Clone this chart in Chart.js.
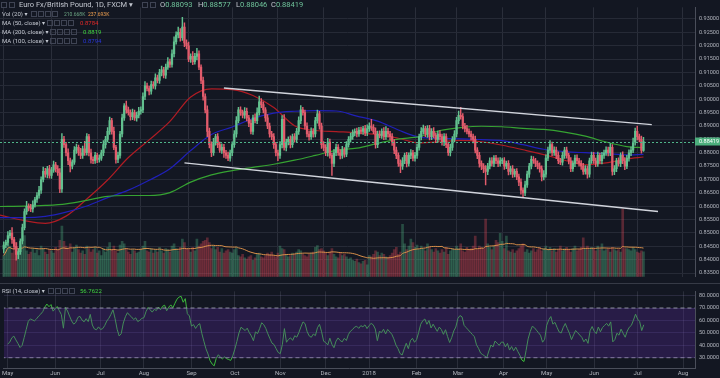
<!DOCTYPE html>
<html>
<head>
<meta charset="utf-8">
<script src="https://cdn.jsdelivr.net/npm/chart.js@4.4.1/dist/chart.umd.min.js"></script>
<style>
  html, body { margin: 0; padding: 0; background: #131722; }
  #wrap { position: relative; width: 720px; height: 378px; overflow: hidden; background: #131722;
          font-family: Roboto, "DejaVu Sans", sans-serif; }
  #main { position: absolute; left: 0; top: 0; }
  #rsi  { position: absolute; left: 0; top: 284px; }
  .sep  { position: absolute; left: 0; top: 283px; width: 720px; height: 1px; background: #363a46; }
  .t    { position: absolute; white-space: nowrap; color: #c3c7d0; font-size: 6px; line-height: 8px; height: 8px; }
  .big  { font-size: 7.5px; line-height: 9px; height: 9px; top: 0px; }
  .v    { color: #6fc39a; }
  .ico  { position: absolute; width: 4px; height: 4px; border: 1px solid #3f4454; }
</style>
</head>
<body>
<div id="wrap">
  <canvas id="main" width="720" height="284"></canvas>
  <canvas id="rsi" width="720" height="94"></canvas>
  <div class="sep"></div>

  <!-- legend -->
  <div class="ico" style="left:1px;top:2px;"></div>
  <div class="ico" style="left:9px;top:2px;"></div>
  <div class="t big" style="left:19px;">Euro Fx/British Pound, 1D, FXCM ▾</div>
  <div class="ico" style="left:142px;top:2px;"></div>
  <div class="ico" style="left:150px;top:2px;"></div>
  <div class="t big" style="left:160px;">O<span class="v">0.88093</span></div>
  <div class="t big" style="left:198px;">H<span class="v">0.88577</span></div>
  <div class="t big" style="left:236px;">L<span class="v">0.88046</span></div>
  <div class="t big" style="left:271px;">C<span class="v">0.88419</span></div>

  <div class="t" style="left:2px;top:10px;">Vol (20) ▾</div>
  <div class="ico" style="left:31px;top:11px;"></div><div class="ico" style="left:38px;top:11px;"></div>
  <div class="ico" style="left:45px;top:11px;"></div><div class="ico" style="left:52px;top:11px;"></div>
  <div class="t" style="left:64px;top:10px;font-size:5px;color:#6ba583;">210.668K</div>
  <div class="t" style="left:88px;top:10px;font-size:5px;color:#f0a050;">237.693K</div>

  <div class="t" style="left:2px;top:19px;">MA (50, close) ▾</div>
  <div class="ico" style="left:47px;top:20px;"></div><div class="ico" style="left:54px;top:20px;"></div>
  <div class="ico" style="left:61px;top:20px;"></div><div class="ico" style="left:68px;top:20px;"></div>
  <div class="t" style="left:80px;top:19px;color:#e02828;">0.8784</div>

  <div class="t" style="left:2px;top:28px;">MA (200, close) ▾</div>
  <div class="ico" style="left:50px;top:29px;"></div><div class="ico" style="left:57px;top:29px;"></div>
  <div class="ico" style="left:64px;top:29px;"></div><div class="ico" style="left:71px;top:29px;"></div>
  <div class="t" style="left:83px;top:28px;color:#3fd23f;">0.8819</div>

  <div class="t" style="left:2px;top:37px;">MA (100, close) ▾</div>
  <div class="ico" style="left:50px;top:38px;"></div><div class="ico" style="left:57px;top:38px;"></div>
  <div class="ico" style="left:64px;top:38px;"></div><div class="ico" style="left:71px;top:38px;"></div>
  <div class="t" style="left:83px;top:37px;color:#2836d8;">0.8794</div>

  <div class="t" style="left:2px;top:287px;">RSI (14, close) ▾</div>
  <div class="ico" style="left:48px;top:288px;"></div><div class="ico" style="left:55px;top:288px;"></div>
  <div class="ico" style="left:62px;top:288px;"></div><div class="ico" style="left:69px;top:288px;"></div>
  <div class="t" style="left:80px;top:287px;color:#3fd23f;">56.7622</div>
</div>

<script>
// ---- data (daily bars, index 0 = 1 May 2017) ----
const monthIdx    = [0, 23, 45, 66, 89, 110, 132, 154, 175, 198, 218, 240, 261, 284, 305, 327];
const monthLabels = ['May', 'Jun', 'Jul', 'Aug', 'Sep', 'Oct', 'Nov', 'Dec', '2018', 'Feb', 'Mar', 'Apr', 'May', 'Jun', 'Jul', 'Aug'];
const priceTicks  = [0.835, 0.84, 0.845, 0.85, 0.855, 0.86, 0.865, 0.87, 0.875, 0.88, 0.885, 0.89, 0.895, 0.90, 0.905, 0.91, 0.915, 0.92, 0.925, 0.93];
const rsiTicks    = [30, 40, 50, 60, 70, 80];

// April 2017 closes, only used to warm up the RSI
const priorCloses = [8540, 8530, 8520, 8545, 8500, 8490, 8475, 8380, 8420, 8400, 8390, 8470, 8500, 8455, 8440];

// closes in pips (x 10000)
const closePips = [
  8455, 8465, 8490, 8500, 8475, 8450, 8420, 8430, 8470, 8520, 8580, 8600, 8595, 8590, 8605, 8625, 8640, 8660, 8700, 8730, 8720, 8740, 8715,
  8735, 8755, 8740, 8725, 8665, 8850, 8830, 8800, 8770, 8750, 8765, 8810, 8820, 8800, 8790, 8815, 8800, 8860, 8800, 8775, 8770, 8790,
  8775, 8780, 8800, 8830, 8850, 8880, 8920, 8880, 8820, 8775, 8790, 8870, 8930, 8975, 8960, 8950, 8935, 8950, 8930, 8940, 8955,
  8960, 9010, 9050, 9040, 9030, 9055, 9050, 9080, 9070, 9100, 9110, 9090, 9120, 9140, 9130, 9170, 9215, 9240, 9250, 9230, 9270, 9210, 9200,
  9150, 9160, 9140, 9160, 9170, 9120, 9070, 9010, 8960, 8880, 8830, 8800, 8840, 8860, 8830, 8810, 8820, 8800, 8790, 8780, 8800,
  8830, 8870, 8920, 8960, 8950, 8940, 8955, 8930, 8910, 8880, 8930, 8920, 8950, 8990, 8980, 8960, 8930, 8900, 8870, 8860, 8830, 8800,
  8790, 8830, 8925, 8820, 8840, 8850, 8830, 8860, 8850, 8880, 8920, 8960, 8950, 8900, 8870, 8860, 8880, 8870, 8920, 8945, 8900, 8830,
  8820, 8800, 8840, 8790, 8760, 8800, 8820, 8800, 8790, 8810, 8795, 8830, 8850, 8860, 8875, 8880, 8870, 8885, 8880, 8890, 8875,
  8890, 8900, 8895, 8880, 8830, 8870, 8865, 8880, 8860, 8880, 8870, 8860, 8840, 8810, 8790, 8760, 8750, 8770, 8790, 8760, 8790, 8800, 8780,
  8790, 8820, 8860, 8880, 8890, 8870, 8890, 8860, 8880, 8865, 8850, 8870, 8860, 8840, 8860, 8830, 8800, 8820, 8850, 8870,
  8920, 8940, 8935, 8900, 8890, 8880, 8870, 8860, 8850, 8810, 8790, 8760, 8750, 8740, 8730, 8750, 8770, 8760, 8780, 8770, 8760, 8770,
  8770, 8750, 8760, 8730, 8740, 8720, 8730, 8710, 8690, 8660, 8650, 8680, 8720, 8750, 8775, 8770, 8760, 8750, 8740, 8710, 8720,
  8780, 8810, 8830, 8800, 8810, 8790, 8770, 8765, 8790, 8810, 8790, 8770, 8740, 8760, 8780, 8770, 8760, 8750, 8730, 8740, 8720, 8770, 8790,
  8770, 8760, 8790, 8770, 8790, 8800, 8810, 8800, 8820, 8730, 8740, 8770, 8760, 8790, 8770, 8750, 8780, 8800, 8810, 8840, 8880,
  8860, 8850, 8809, 8842
];

// wick length above / below the body, pips
const wickUp = [
  12, 8, 15, 10, 20, 9, 14, 11, 8, 13, 10, 18, 9, 12, 15, 8, 11, 14, 10, 16, 12, 9, 13,
  10, 14, 9, 12, 16, 22, 11, 9, 15, 10, 8, 13, 12, 9, 16, 10, 28, 12, 9, 14, 10, 11,
  9, 12, 10, 15, 11, 14, 13, 9, 16, 8, 12, 10, 14, 9, 18, 11, 10, 13, 9, 12, 15,
  12, 14, 16, 10, 9, 13, 11, 15, 10, 12, 14, 9, 11, 16, 10, 15, 18, 12, 20, 14, 36, 16, 12,
  14, 10, 18, 12, 20, 11, 9, 13, 10, 15, 12, 11, 14, 9, 12, 10, 13, 11, 9, 12, 10,
  11, 13, 15, 10, 12, 9, 14, 12, 10, 13, 11, 15, 18, 22, 12, 10, 9, 13, 11, 10, 12, 9,
  10, 12, 14, 18, 11, 9, 13, 10, 12, 11, 14, 16, 10, 9, 12, 11, 13, 10, 12, 14, 10, 11,
  12, 10, 14, 11, 9, 13, 12, 10, 11, 14, 9, 12, 10, 13, 11, 9, 12, 10, 11, 9, 12,
  14, 12, 25, 10, 13, 11, 12, 9, 14, 18, 11, 10, 12, 9, 11, 10, 13, 12, 9, 11, 10, 12, 9,
  11, 12, 10, 14, 13, 9, 11, 12, 10, 14, 9, 11, 13, 10, 12, 11, 9, 12, 10, 13,
  12, 16, 30, 11, 10, 12, 9, 11, 10, 12, 9, 11, 10, 9, 12, 10, 11, 12, 9, 10, 11, 12,
  10, 12, 9, 11, 10, 12, 9, 11, 10, 12, 9, 14, 11, 10, 12, 11, 9, 10, 12, 11, 13,
  12, 11, 15, 10, 12, 11, 13, 9, 12, 10, 11, 9, 12, 10, 11, 12, 9, 11, 10, 12, 11, 10, 12,
  11, 10, 12, 9, 11, 10, 12, 11, 14, 10, 12, 9, 11, 10, 13, 12, 10, 11, 12, 15, 12,
  20, 10, 12, 16
];
const wickDn = [
  15, 10, 12, 9, 14, 11, 22, 16, 10, 12, 9, 11, 13, 10, 12, 9, 11, 10, 12, 9, 11, 14, 10,
  11, 9, 12, 10, 14, 13, 10, 12, 15, 22, 11, 9, 13, 10, 12, 11, 10, 9, 12, 14, 11, 10,
  12, 10, 9, 11, 13, 10, 12, 11, 9, 14, 12, 10, 11, 9, 12, 10, 13, 11, 9, 12, 10,
  11, 10, 12, 9, 14, 11, 10, 12, 9, 11, 13, 10, 12, 9, 11, 10, 12, 9, 11, 13, 10, 14, 12,
  10, 12, 11, 9, 13, 10, 12, 14, 11, 20, 12, 15, 10, 12, 11, 9, 13, 18, 11, 10, 12,
  11, 10, 12, 9, 11, 10, 12, 11, 13, 10, 12, 9, 11, 10, 12, 11, 13, 10, 12, 11, 14, 12,
  20, 11, 12, 10, 13, 11, 12, 10, 11, 9, 12, 11, 10, 12, 11, 13, 10, 12, 11, 10, 12, 14,
  12, 11, 13, 10, 45, 12, 11, 10, 13, 11, 12, 10, 9, 11, 10, 12, 11, 9, 10, 12, 11,
  11, 10, 12, 9, 13, 11, 10, 12, 11, 10, 12, 11, 13, 14, 12, 11, 25, 12, 11, 13, 10, 12, 11,
  12, 11, 10, 12, 11, 10, 13, 12, 11, 10, 12, 11, 13, 12, 14, 11, 10, 12, 11, 10,
  11, 12, 10, 11, 12, 10, 11, 12, 13, 11, 12, 14, 13, 15, 50, 12, 11, 10, 12, 11, 12, 10,
  11, 12, 10, 13, 11, 12, 10, 11, 13, 15, 16, 11, 10, 12, 11, 10, 12, 11, 13, 15, 12,
  11, 10, 12, 11, 10, 12, 11, 10, 12, 11, 10, 12, 11, 10, 12, 11, 10, 12, 11, 10, 15, 11, 10,
  10, 12, 11, 10, 12, 11, 10, 12, 11, 14, 12, 11, 10, 12, 11, 13, 10, 12, 11, 10, 12,
  12, 10, 11, 4
];

// volume, thousands
const volumeK = [
  180, 240, 310, 260, 200, 230, 290, 210, 250, 270, 350, 220, 190, 210, 240, 200, 230, 180, 260, 240, 210, 190, 230,
  220, 200, 250, 230, 310, 430, 300, 260, 240, 280, 210, 250, 270, 230, 200, 220, 190, 260, 240, 210, 230, 250,
  200, 220, 180, 240, 210, 250, 290, 230, 260, 220, 200, 270, 300, 280, 240, 210, 190, 230, 220, 200, 210,
  230, 260, 300, 220, 210, 240, 200, 230, 210, 250, 220, 200, 240, 230, 210, 260, 280, 240, 220, 250, 320, 290, 240,
  230, 210, 250, 220, 320, 260, 280, 300, 310, 330, 290, 240, 260, 230, 250, 210, 240, 200, 220, 230, 210,
  200, 230, 250, 180, 170, 190, 160, 150, 170, 180, 140, 160, 190, 200, 170, 160, 180, 200, 190, 210, 180, 170,
  200, 260, 240, 230, 190, 170, 180, 200, 190, 210, 230, 220, 190, 180, 170, 190, 200, 210, 250, 265, 230, 240,
  220, 200, 180, 210, 240, 190, 170, 160, 200, 180, 190, 170, 150, 160, 140, 130, 150, 120, 110, 130, 140,
  100, 180, 170, 190, 220, 210, 180, 200, 190, 170, 160, 180, 200, 230, 250, 190, 210, 445, 280, 230, 260, 320, 290,
  250, 270, 230, 260, 240, 220, 280, 250, 230, 210, 240, 220, 200, 230, 210, 250, 190, 220, 240, 230,
  260, 240, 280, 220, 210, 250, 230, 240, 260, 345, 230, 260, 250, 240, 490, 280, 250, 230, 260, 310, 290, 370,
  300, 240, 345, 220, 210, 230, 200, 220, 240, 260, 280, 210, 230, 200, 220, 240, 210, 230, 250, 220, 240,
  260, 230, 250, 220, 240, 210, 230, 260, 220, 240, 250, 230, 210, 240, 260, 220, 230, 250, 330, 240, 260, 230, 250,
  240, 220, 260, 230, 280, 220, 230, 240, 210, 250, 230, 220, 230, 210, 575, 240, 240, 230, 220, 250, 230,
  210, 200, 220, 211
];

const maIdx = [-2, 10, 20, 30, 40, 50, 60, 70, 80, 90, 100, 110, 120, 130, 140, 150, 160, 170, 180, 190, 200, 210, 220, 230, 240, 250, 260, 270, 280, 290, 300, 308];
const ma50  = [0.8567, 0.8546, 0.8536, 0.8563, 0.8627, 0.8698, 0.8782, 0.8848, 0.8917, 0.9008, 0.9039, 0.9036, 0.9014, 0.8969, 0.8901, 0.8883,
               0.8879, 0.8875, 0.8868, 0.8854, 0.8837, 0.8841, 0.8846, 0.8841, 0.8828, 0.8811, 0.8793, 0.8772, 0.8755, 0.8762, 0.8777, 0.8784];
const ma100 = [0.8557, 0.8557, 0.8562, 0.8578, 0.8601, 0.8632, 0.8660, 0.8697, 0.8740, 0.8808, 0.8868, 0.8896, 0.8928, 0.8948, 0.8955, 0.8957,
               0.8956, 0.8937, 0.8918, 0.8885, 0.8858, 0.8853, 0.8852, 0.8849, 0.8845, 0.8830, 0.8813, 0.8804, 0.8800, 0.8797, 0.8792, 0.8794];
const ma200 = [0.8599, 0.8600, 0.8603, 0.8609, 0.8622, 0.8637, 0.8640, 0.8640, 0.8651, 0.8690, 0.8717, 0.8733, 0.8745, 0.8757, 0.8772, 0.8790,
               0.8809, 0.8817, 0.8835, 0.8851, 0.8860, 0.8883, 0.8894, 0.8899, 0.8897, 0.8891, 0.8887, 0.8877, 0.8862, 0.8840, 0.8823, 0.8819];

// drawn channel, [bar index, price]
const channelTop    = [[106, 0.9042], [312, 0.8905]];
const channelBottom = [[87, 0.8762], [315, 0.8580]];

const LAST_PRICE = 0.88419;

// ---- derived ----
const UP = '#62c08f', DN = '#e25c6c';
const closes = closePips.map(p => p / 10000);
const opens  = closes.map((c, i) => i === 0 ? priorCloses[priorCloses.length - 1] / 10000 : closes[i - 1]);
const isUp   = closes.map((c, i) => c >= opens[i]);

function sma(arr, n) {
  return arr.map((_, i) => {
    const from = Math.max(0, i - n + 1);
    let s = 0;
    for (let k = from; k <= i; k++) s += arr[k];
    return s / (i - from + 1);
  });
}

function rsi(all, period) {
  const out = [];
  let ag = 0, al = 0;
  for (let i = 1; i < all.length; i++) {
    const d = all[i] - all[i - 1];
    const g = Math.max(d, 0), l = Math.max(-d, 0);
    if (i <= period) { ag += g / period; al += l / period; }
    else { ag = (ag * (period - 1) + g) / period; al = (al * (period - 1) + l) / period; }
    out[i] = i < period ? null : (al === 0 ? 100 : 100 - 100 / (1 + ag / al));
  }
  return out;
}

const rsiAll = rsi(priorCloses.concat(closePips), 14);
const rsiVals = closes.map((_, i) => rsiAll[i + priorCloses.length]);
const volMa = sma(volumeK, 20);

const X_MIN = -1.8, X_MAX = 332.8;
const AXIS_W = 25;
const GRID = '#262a36';
const TXT = '#b2b5be';
Chart.defaults.font.family = 'Roboto, "DejaVu Sans", sans-serif';

const xScale = (showLabels) => ({
  type: 'linear', min: X_MIN, max: X_MAX, offset: false,
  afterBuildTicks: s => { s.ticks = monthIdx.map(v => ({ value: v })); },
  afterFit: s => { s.height = showLabels ? 10 : 0; },
  grid: { color: '#2a2e3a', drawTicks: false, offset: false },
  border: { display: showLabels, color: '#4a4e5a' },
  ticks: {
    display: showLabels, autoSkip: false, maxRotation: 0, padding: 2,
    color: TXT, font: { size: 6 },
    callback: (v, i) => monthLabels[i]
  }
});

const line = (pts, color, width, order) => ({
  type: 'line', data: pts, borderColor: color, borderWidth: width,
  pointRadius: 0, tension: 0.4, cubicInterpolationMode: 'monotone', order
});

// ---- last price line + axis tag ----
const lastPricePlugin = {
  id: 'lastPrice',
  afterDatasetsDraw(chart) {
    const { ctx, chartArea, scales } = chart;
    const y = Math.round(scales.y.getPixelForValue(LAST_PRICE)) + 0.5;
    ctx.save();
    ctx.strokeStyle = '#4fb589';
    ctx.lineWidth = 1;
    ctx.setLineDash([2, 2]);
    ctx.beginPath();
    ctx.moveTo(chartArea.left, y);
    ctx.lineTo(chartArea.right, y);
    ctx.stroke();
    ctx.restore();
  },
  afterDraw(chart) {
    const { ctx, chartArea, scales } = chart;
    const y = scales.y.getPixelForValue(LAST_PRICE);
    ctx.save();
    ctx.fillStyle = '#4caf7d';
    ctx.fillRect(chartArea.right, y - 4, chart.width - chartArea.right, 8);
    ctx.fillStyle = '#ffffff';
    ctx.font = '5.5px Roboto, sans-serif';
    ctx.textBaseline = 'middle';
    ctx.fillText(LAST_PRICE.toFixed(5), chartArea.right + 4, y + 0.5);
    ctx.restore();
  }
};

// ---- main pane: candles, volume, MAs, channel ----
new Chart(document.getElementById('main'), {
  type: 'bar',
  data: {
    datasets: [
      {
        label: 'vol', yAxisID: 'yVol', grouped: false, barThickness: 2, order: 9,
        data: volumeK.map((v, i) => ({ x: i, y: v })),
        backgroundColor: isUp.map(u => u ? 'rgba(83,185,135,0.33)' : 'rgba(235,77,92,0.33)')
      },
      Object.assign(line(volMa.map((v, i) => ({ x: i, y: v })), '#d9904a', 1, 8), { yAxisID: 'yVol', tension: 0 }),
      line(maIdx.map((x, i) => ({ x, y: ma200[i] })), '#36a332', 1.2, 6),
      line(maIdx.map((x, i) => ({ x, y: ma100[i] })), '#2020b8', 1.2, 6),
      line(maIdx.map((x, i) => ({ x, y: ma50[i] })), '#b01c24', 1.2, 6),
      {
        label: 'wick', grouped: false, barThickness: 0.8, order: 4,
        data: closes.map((c, i) => ({
          x: i,
          y: [Math.min(opens[i], c) - wickDn[i] / 10000, Math.max(opens[i], c) + wickUp[i] / 10000]
        })),
        backgroundColor: isUp.map(u => u ? UP : DN)
      },
      {
        label: 'body', grouped: false, barThickness: 1.6, minBarLength: 1, order: 3,
        data: closes.map((c, i) => ({ x: i, y: [opens[i], c] })),
        backgroundColor: isUp.map(u => u ? UP : DN)
      },
      line(channelTop.map(p => ({ x: p[0], y: p[1] })), '#d1d4dc', 1.4, 1),
      line(channelBottom.map(p => ({ x: p[0], y: p[1] })), '#d1d4dc', 1.4, 1)
    ]
  },
  options: {
    responsive: false,
    animation: false,
    layout: { padding: 0 },
    plugins: { legend: { display: false }, tooltip: { enabled: false } },
    scales: {
      x: xScale(false),
      y: {
        position: 'right', min: 0.833653, max: 0.934362,
        afterBuildTicks: s => { s.ticks = priceTicks.map(v => ({ value: v })); },
        afterFit: s => { s.width = AXIS_W; },
        grid: { color: GRID, drawTicks: false },
        border: { color: '#4a4e5a' },
        ticks: { color: TXT, padding: 4, font: { size: 5.5 }, callback: v => v.toFixed(5) }
      },
      yVol: { display: false, min: 0, max: 2292 }
    }
  },
  plugins: [lastPricePlugin]
});

// ---- RSI pane ----
new Chart(document.getElementById('rsi'), {
  type: 'line',
  data: {
    datasets: [
      {
        data: [{ x: -3, y: 70 }, { x: 334, y: 70 }], borderColor: '#8f92a0', borderWidth: 1,
        borderDash: [4, 3], pointRadius: 0, fill: '+1', backgroundColor: 'rgba(90,40,160,0.30)'
      },
      {
        data: [{ x: -3, y: 30 }, { x: 334, y: 30 }], borderColor: '#8f92a0', borderWidth: 1,
        borderDash: [4, 3], pointRadius: 0, fill: false
      },
      {
        data: rsiVals.map((v, i) => ({ x: i, y: v })), borderColor: '#3cb83c', borderWidth: 1,
        pointRadius: 0, fill: false, tension: 0
      }
    ]
  },
  options: {
    responsive: false,
    animation: false,
    layout: { padding: 0 },
    plugins: { legend: { display: false }, tooltip: { enabled: false } },
    scales: {
      x: xScale(true),
      y: {
        position: 'right', min: 21.7, max: 83.46,
        afterBuildTicks: s => { s.ticks = rsiTicks.map(v => ({ value: v })); },
        afterFit: s => { s.width = AXIS_W; },
        grid: { color: 'rgba(150,140,200,0.18)', drawTicks: false },
        border: { color: '#4a4e5a' },
        ticks: { color: TXT, padding: 4, font: { size: 5.5 }, callback: v => v.toFixed(4) }
      }
    }
  }
});
</script>
</body>
</html>
